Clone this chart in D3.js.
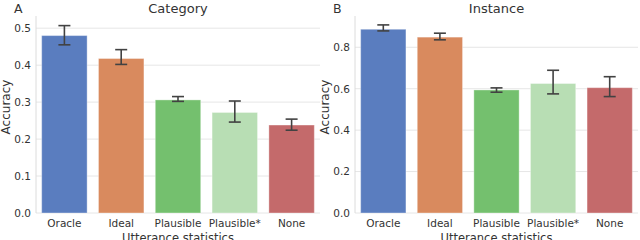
<!DOCTYPE html>
<html>
<head>
<meta charset="utf-8">
<script src="https://cdn.jsdelivr.net/npm/d3@7"></script>
<style>
  body { margin: 0; background: white; }
  text { font-family: "DejaVu Sans", sans-serif; fill: #333; }
</style>
</head>
<body>
<svg id="chart" width="640" height="240"></svg>
<script>
const categories = ["Oracle", "Ideal", "Plausible", "Plausible*", "None"]
const barColors = ["#5a7dbf", "#d98a5e", "#74c06e", "#b8deb4", "#c46a6b"]

// panel A: category accuracy
const categoryMean = [0.480, 0.418, 0.306, 0.272, 0.238]
const categoryLow  = [0.455, 0.402, 0.302, 0.246, 0.224]
const categoryHigh = [0.507, 0.442, 0.315, 0.303, 0.254]
const categoryTicks = [0.0, 0.1, 0.2, 0.3, 0.4, 0.5]

// panel B: instance accuracy
const instanceMean = [0.887, 0.849, 0.594, 0.625, 0.605]
const instanceLow  = [0.879, 0.836, 0.583, 0.575, 0.562]
const instanceHigh = [0.908, 0.868, 0.604, 0.689, 0.658]
const instanceTicks = [0.0, 0.2, 0.4, 0.6, 0.8]

const svg = d3.select("#chart")

const panels = [
	{ letter: "A", title: "Category", mean: categoryMean, low: categoryLow, high: categoryHigh,
	  ticks: categoryTicks, yMax: 0.533, left: 36, right: 320 },
	{ letter: "B", title: "Instance", mean: instanceMean, low: instanceLow, high: instanceHigh,
	  ticks: instanceTicks, yMax: 0.951, left: 355, right: 638 }
]

const plotTop = 16, plotBottom = 213

panels.forEach(p => {
	const x = d3.scaleBand()
		.domain(categories)
		.range([p.left, p.right])
		.paddingInner(0.2)
		.paddingOuter(0.1)

	const y = d3.scaleLinear()
		.domain([0, p.yMax])
		.range([plotBottom, plotTop])

	const g = svg.append("g")

	// grid
	g.selectAll("line.grid")
		.data(p.ticks)
		.enter()
		.append("line")
		.attr("class", "grid")
		.attr("x1", p.left)
		.attr("x2", p.right)
		.attr("y1", d => y(d))
		.attr("y2", d => y(d))
		.attr("stroke", "#e6e6e6")
		.attr("stroke-width", 1)

	// left spine
	g.append("line")
		.attr("x1", p.left).attr("x2", p.left)
		.attr("y1", plotTop).attr("y2", plotBottom)
		.attr("stroke", "#dcdcdc")

	// y axis labels
	const yAxis = d3.axisLeft(y)
		.tickValues(p.ticks)
		.tickFormat(d3.format(".1f"))
		.tickSize(0)
		.tickPadding(5)
	g.append("g")
		.attr("transform", `translate(${p.left},0)`)
		.call(yAxis)
		.call(a => a.select(".domain").remove())
		.selectAll("text")
		.style("font-family", "DejaVu Sans")
		.style("font-size", "10.5px")
		.attr("fill", "#333")

	// bars
	g.selectAll("rect")
		.data(categories)
		.enter()
		.append("rect")
		.attr("x", d => x(d))
		.attr("width", x.bandwidth())
		.attr("y", (d, i) => y(p.mean[i]))
		.attr("height", (d, i) => y(0) - y(p.mean[i]))
		.attr("fill", (d, i) => barColors[i])
		.attr("stroke", "white")
		.attr("stroke-opacity", 0.35)
		.attr("stroke-width", 1)

	// error bars
	const cap = 6
	const err = g.selectAll("g.err")
		.data(categories)
		.enter()
		.append("g")
		.attr("class", "err")
		.attr("stroke", "#424242")
		.attr("stroke-width", 1.6)
	err.append("line")
		.attr("x1", d => x(d) + x.bandwidth() / 2)
		.attr("x2", d => x(d) + x.bandwidth() / 2)
		.attr("y1", (d, i) => y(p.low[i]))
		.attr("y2", (d, i) => y(p.high[i]))
	err.append("line")
		.attr("x1", d => x(d) + x.bandwidth() / 2 - cap)
		.attr("x2", d => x(d) + x.bandwidth() / 2 + cap)
		.attr("y1", (d, i) => y(p.low[i]))
		.attr("y2", (d, i) => y(p.low[i]))
	err.append("line")
		.attr("x1", d => x(d) + x.bandwidth() / 2 - cap)
		.attr("x2", d => x(d) + x.bandwidth() / 2 + cap)
		.attr("y1", (d, i) => y(p.high[i]))
		.attr("y2", (d, i) => y(p.high[i]))

	// x labels
	const xAxis = d3.axisBottom(x).tickSize(0).tickPadding(6.5)
	g.append("g")
		.attr("transform", `translate(0,${plotBottom})`)
		.call(xAxis)
		.call(a => a.select(".domain").remove())
		.selectAll("text")
		.style("font-family", "DejaVu Sans")
		.style("font-size", "10.5px")
		.attr("fill", "#333")

	// titles and labels
	g.append("text")
		.attr("x", (p.left + p.right) / 2)
		.attr("y", 12.5)
		.attr("text-anchor", "middle")
		.style("font-size", "13px")
		.text(p.title)

	g.append("text")
		.attr("x", p.left - 22)
		.attr("y", 12.5)
		.style("font-size", "12.5px")
		.text(p.letter)

	g.append("text")
		.attr("transform", `translate(${p.left - 26},107) rotate(-90)`)
		.attr("text-anchor", "middle")
		.style("font-size", "12px")
		.text("Accuracy")

	g.append("text")
		.attr("x", (p.left + p.right) / 2)
		.attr("y", 242)
		.attr("text-anchor", "middle")
		.style("font-size", "11.5px")
		.text("Utterance statistics")
})
</script>
</body>
</html>
